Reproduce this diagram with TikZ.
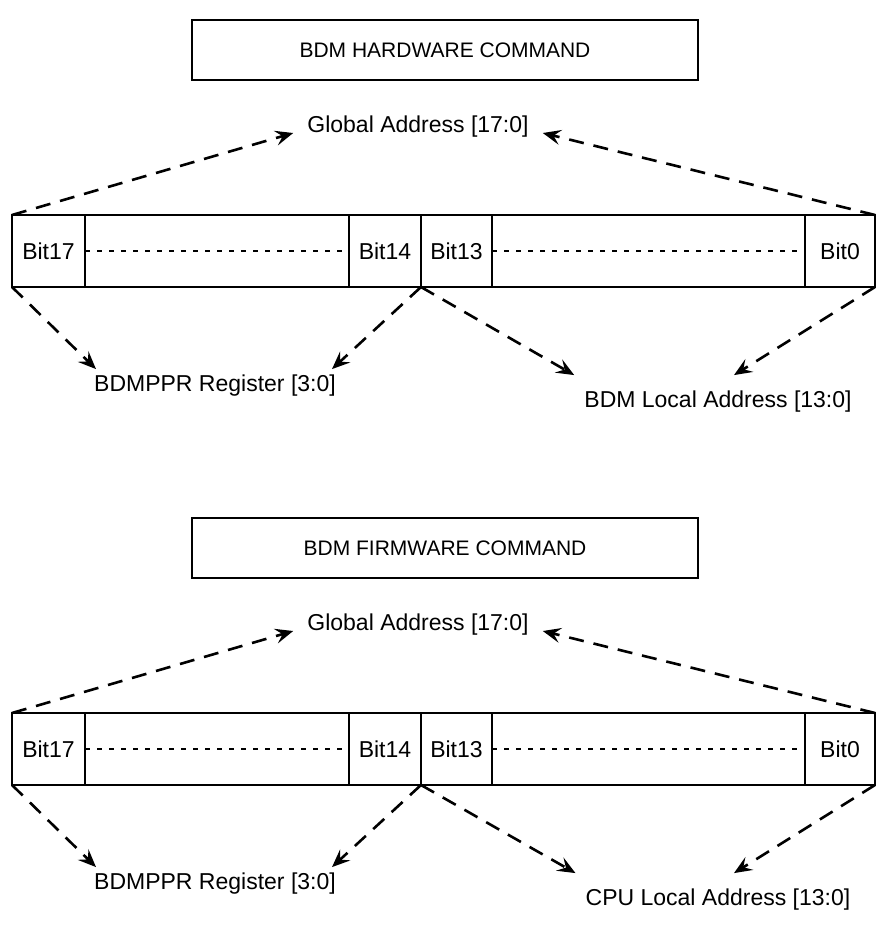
\documentclass[tikz,border=0pt]{standalone}
\usepackage{fontspec}
\setmainfont{Liberation Sans}
\usetikzlibrary{arrows.meta,calc}
\begin{document}
\begin{tikzpicture}[x=1pt,y=-1pt,
  every node/.style={font=\fontsize{23}{27}\selectfont},
  cmdbox/.style={draw,line width=2.2pt,minimum width=506pt,minimum height=60pt,inner sep=0pt,outer sep=0pt,font=\fontsize{21}{25}\selectfont},
  cell/.style={draw,line width=2.2pt,minimum height=72pt,inner sep=0pt,outer sep=0pt},
  lbl/.style={inner sep=0pt},
  dasharrow/.style={line width=2.6pt,dash pattern=on 15pt off 10pt,-{Stealth[length=18pt,width=15pt,inset=7pt]}},
  dotline/.style={line width=2.4pt,dash pattern=on 5pt off 7pt}
]
\useasboundingbox (0,0) rectangle (877,937);
\foreach \s/\title/\loc in {0/BDM HARDWARE COMMAND/BDM, 1/BDM FIRMWARE COMMAND/CPU}{
  \begin{scope}[yshift=-\s*498pt]
  \node[cmdbox] (box\s) at (445,50) {\title};
  \node[lbl] (glob\s) at (418,127) {Global Address [17:0]};
  \node[cell,minimum width=73pt] (c17\s) at (48.5,251) {Bit17};
  \node[cell,minimum width=264pt] (d1\s) at (217,251) {};
  \node[cell,minimum width=72pt] (c14\s) at (385,251) {Bit14};
  \node[cell,minimum width=71pt] (c13\s) at (456.5,251) {Bit13};
  \node[cell,minimum width=313pt] (d2\s) at (648.5,251) {};
  \node[cell,minimum width=70pt] (c0\s) at (840,251) {Bit0};
  \draw[dotline] (d1\s.west) -- (d1\s.east);
  \draw[dotline] (d2\s.west) -- (d2\s.east);
  \node[lbl] (ppr\s) at (215,386) {BDMPPR Register [3:0]};
  \node[lbl] (la\s) at (718,402) {\loc\ Local Address [13:0]};
  \draw[dasharrow] (c17\s.north west) -- ($(glob\s.west)+(-14,6)$);
  \draw[dasharrow] (c0\s.north east) -- ($(glob\s.east)+(14,6)$);
  \draw[dasharrow] (c17\s.south west) -- ($(ppr\s.north west)+(2,-6)$);
  \draw[dasharrow] (c14\s.south east) -- ($(ppr\s.north east)+(-4,-6)$);
  \draw[dasharrow] (c13\s.south west) -- ($(la\s.north west)+(-10,-16)$);
  \draw[dasharrow] (c0\s.south east) -- ($(la\s.north)+(16,-16)$);
  \end{scope}
}
\end{tikzpicture}
\end{document}
